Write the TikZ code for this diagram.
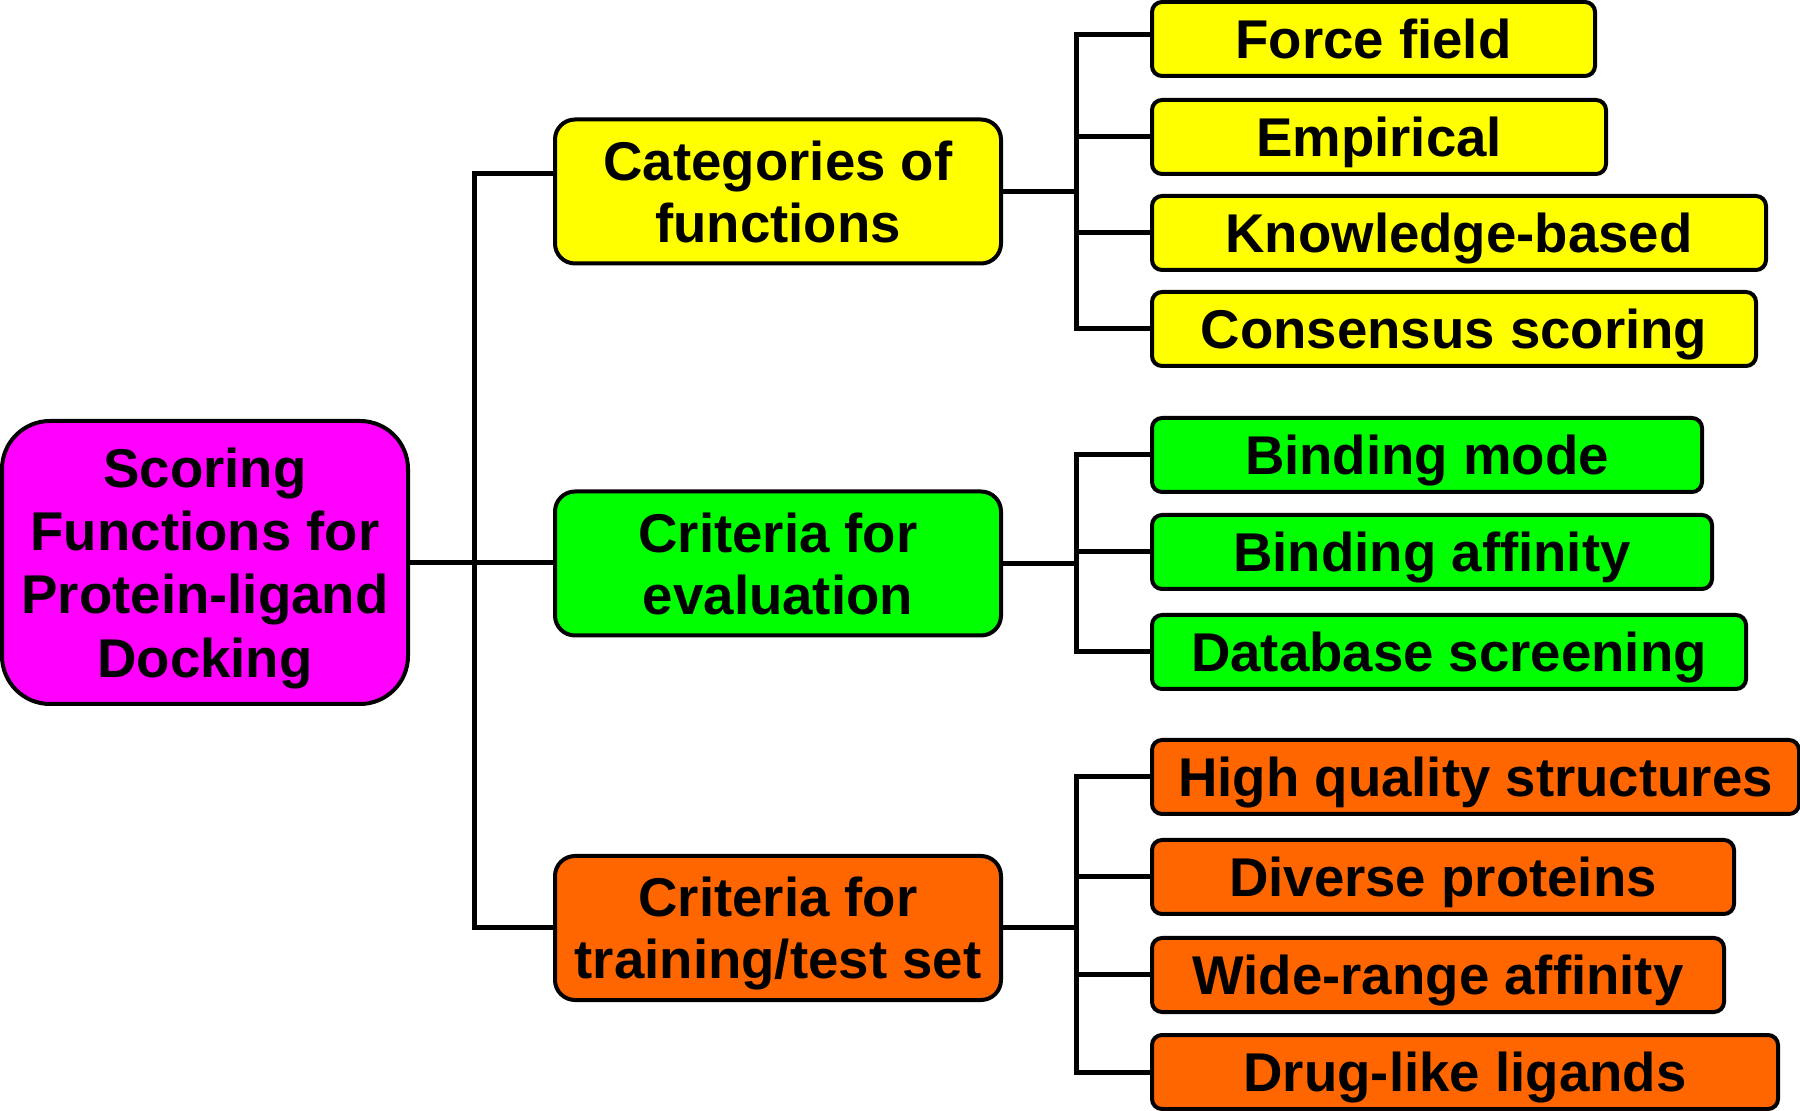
\documentclass[tikz,border=0pt]{standalone}
\usepackage{fontspec}
\setmainfont{Liberation Sans}
\definecolor{cmag}{HTML}{FF00FF}
\definecolor{cyel}{HTML}{FFFF00}
\definecolor{cgrn}{HTML}{00FF00}
\definecolor{corg}{HTML}{FF6600}
\begin{document}
\begin{tikzpicture}[x=0.5pt,y=-0.5pt,
  txt/.style={font=\fontsize{27.3}{31}\selectfont\bfseries, align=center, inner sep=0pt, text=black},
  box/.style={txt, draw=black, line width=2pt},
  rootbox/.style={box, fill=cmag, rounded corners=24pt, minimum width=203pt, minimum height=141.5pt},
  midbox/.style={box, rounded corners=10pt, minimum width=223pt, minimum height=72pt},
  leaf/.style={box, rounded corners=5pt, minimum height=37pt, anchor=west, text height=19.6pt, text depth=0pt},
  conn/.style={draw=black, line width=2.5pt}
]
\useasboundingbox (0,0) rectangle (1800,1111);

\node[rootbox, font=\fontsize{27.3}{31.6}\selectfont\bfseries, text depth=0pt] (root) at (205,562.5) {Scoring\\Functions for\\Protein-ligand\\Docking};

\node[midbox, fill=cyel] (cat) at (778,191.5) {Categories of\\functions};
\node[midbox, fill=cgrn] (eval) at (778,563.5) {Criteria for\\evaluation};
\node[midbox, fill=corg, text depth=0pt] (train) at (778,928) {Criteria for\\training/test set};

\node[leaf, fill=cyel, minimum width=221.5pt] (ff) at (1150,39) {Force field};
\node[leaf, fill=cyel, minimum width=227pt] (emp) at (1150,137) {Empirical};
\node[leaf, fill=cyel, minimum width=307pt] (kb) at (1150,233) {Knowledge-based};
\node[leaf, fill=cyel, minimum width=302pt] (cs) at (1150,329) {Consensus scoring};

\node[leaf, fill=cgrn, minimum width=275pt] (bm) at (1150,455) {Binding mode};
\node[leaf, fill=cgrn, minimum width=280pt] (ba) at (1150,552) {Binding affinity};
\node[leaf, fill=cgrn, minimum width=297pt] (ds) at (1150,652) {Database screening};

\node[leaf, fill=corg, minimum width=323.5pt] (hq) at (1150,777) {High quality structures};
\node[leaf, fill=corg, minimum width=291pt] (dp) at (1150,877) {Diverse proteins};
\node[leaf, fill=corg, minimum width=286pt] (wr) at (1150,975) {Wide-range affinity};
\node[leaf, fill=corg, minimum width=313pt] (dl) at (1150,1072) {Drug-like ligands};

\coordinate (tx) at (474,0);
\coordinate (jx) at (1076,0);

% trunk
\draw[conn] ([yshift=9pt]cat.west) -- ([yshift=9pt]cat.west -| tx) -- (train.west -| tx) -- (train.west);
\draw[conn] (root.east) -- (root.east -| eval.west);

% group 1
\draw[conn] ([yshift=2pt]ff.west) -- ([yshift=2pt]ff.west -| jx) -- (cs.west -| jx) -- (cs.west);
\draw[conn] (emp.west) -- (emp.west -| jx);
\draw[conn] (kb.west) -- (kb.west -| jx);
\draw[conn] (cat.east) -- (cat.east -| jx);

% group 2
\draw[conn] (bm.west) -- (bm.west -| jx) -- (ds.west -| jx) -- (ds.west);
\draw[conn] (ba.west) -- (ba.west -| jx);
\draw[conn] (eval.east) -- (eval.east -| jx);

% group 3
\draw[conn] (hq.west) -- (hq.west -| jx) -- (dl.west -| jx) -- (dl.west);
\draw[conn] (dp.west) -- (dp.west -| jx);
\draw[conn] (wr.west) -- (wr.west -| jx);
\draw[conn] (train.east) -- (train.east -| jx);
\end{tikzpicture}
\end{document}
